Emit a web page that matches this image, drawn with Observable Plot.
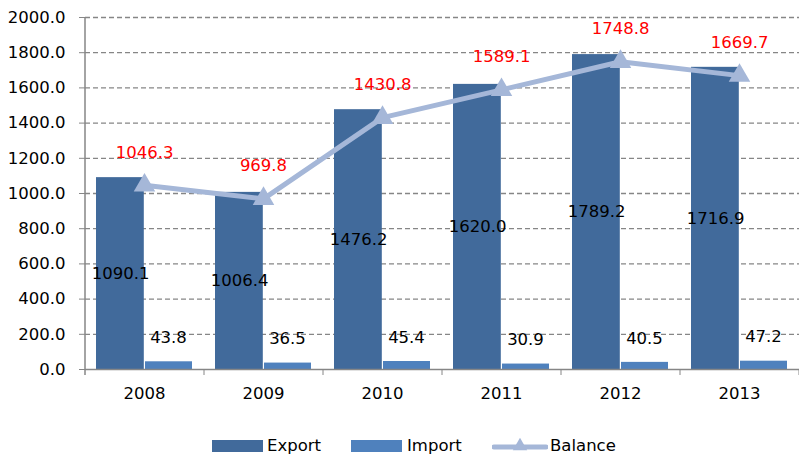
<!DOCTYPE html>
<html>
<head>
<meta charset="utf-8">
<script src="https://cdn.jsdelivr.net/npm/d3@7"></script>
<script src="https://cdn.jsdelivr.net/npm/@observablehq/plot@0.6"></script>
<style>
  body { margin: 0; background: white; font-family: "DejaVu Sans", sans-serif; }
  #wrap { width: 799px; }
  #legend { position: relative; width: 799px; height: 31px; font-size: 16.5px; color: black; }
  #legend .sw { position: absolute; }
  #legend .lb { position: absolute; top: 11px; line-height: 20px; }
</style>
</head>
<body>
<div id="wrap">
  <div id="chart"></div>
  <div id="legend"></div>
</div>
<script>
const years = ["2008", "2009", "2010", "2011", "2012", "2013"];
const exportVals = [1090.1, 1006.4, 1476.2, 1620.0, 1789.2, 1716.9];
const importVals = [43.8, 36.5, 45.4, 30.9, 40.5, 47.2];
const balanceVals = [1046.3, 969.8, 1430.8, 1589.1, 1748.8, 1669.7];
const yTicks = [0, 200, 400, 600, 800, 1000, 1200, 1400, 1600, 1800, 2000];
const seriesNames = ["Export", "Import", "Balance"];

const cExport = "#416A9B", cImport = "#4F81BD", cBalance = "#A5B7D8", cGrid = "#868686";

const data = years.map((y, i) => ({year: y, export: exportVals[i], import: importVals[i], balance: balanceVals[i]}));
const fmt = d3.format(".1f");
const half = 48.2;   // half of band width
const halfStep = 59.5;
const fs = 16.5;

const chart = Plot.plot({
  width: 799, height: 425,
  marginLeft: 85, marginRight: 0, marginTop: 17, marginBottom: 56,
  style: {fontFamily: "DejaVu Sans", fontSize: fs + "px", background: "white", color: "black"},
  x: {type: "band", domain: years, paddingInner: 0.19, paddingOuter: 0.095, axis: null, label: null},
  y: {domain: [0, 2000], axis: null, label: null},
  marks: [
    Plot.ruleY(yTicks.slice(1), {stroke: cGrid, strokeDasharray: "5,3", strokeWidth: 1.3}),
    Plot.barY(data, {x: "year", y: "export", fill: cExport, insetRight: half}),
    Plot.barY(data, {x: "year", y: "import", fill: cImport, insetLeft: half + 0.8}),
    Plot.ruleY([0], {stroke: cGrid, strokeWidth: 1.5}),
    Plot.ruleX([years[0]], {x: d => d, dx: -halfStep, stroke: cGrid, strokeWidth: 1.5, insetBottom: -6}),
    Plot.axisY({ticks: yTicks, tickFormat: d => fmt(d), tickSize: 6, tickPadding: 14, stroke: cGrid, fontSize: fs, label: null}),
    Plot.axisX({tickSize: 6, tickFormat: () => "", dx: halfStep, stroke: cGrid, label: null}),
    Plot.axisX({tickSize: 0, tickPadding: 18, fontSize: fs, label: null}),
    Plot.lineY(data, {x: "year", y: "balance", stroke: cBalance, strokeWidth: 5}),
    Plot.dot(data, {x: "year", y: "balance", symbol: "triangle", r: 8, fill: cBalance, stroke: null}),
    Plot.text(data, {x: "year", y: d => d.export / 2, text: d => fmt(d.export), dx: -24, fill: "black", fontSize: fs}),
    Plot.text(data, {x: "year", y: "import", text: d => fmt(d.import), dx: 24, dy: -24, fill: "black", fontSize: fs}),
    Plot.text(data, {x: "year", y: "balance", text: d => fmt(d.balance), dy: -33, fill: "#FF0000", fontSize: fs})
  ]
});
document.getElementById("chart").appendChild(chart);

// legend
const legend = document.getElementById("legend");
const items = [
  {name: seriesNames[0], type: "rect", color: cExport, sx: 212, tx: 267},
  {name: seriesNames[1], type: "rect", color: cImport, sx: 351, tx: 407},
  {name: seriesNames[2], type: "line", color: cBalance, sx: 492, tx: 550}
];
for (const it of items) {
  const sw = document.createElementNS("http://www.w3.org/2000/svg", "svg");
  sw.setAttribute("class", "sw");
  sw.setAttribute("width", 56);
  sw.setAttribute("height", 20);
  sw.style.left = it.sx + "px";
  sw.style.top = "11px";
  if (it.type === "rect") {
    sw.innerHTML = `<rect x="0" y="4" width="51" height="12" fill="${it.color}"/>`;
  } else {
    sw.innerHTML = `<line x1="2" y1="11" x2="54" y2="11" stroke="${it.color}" stroke-width="5" stroke-linecap="round"/>` +
      `<path d="${d3.symbol(d3.symbolTriangle, 90)()}" transform="translate(28,10)" fill="${it.color}"/>`;
  }
  legend.appendChild(sw);
  const lb = document.createElement("div");
  lb.className = "lb";
  lb.style.left = it.tx + "px";
  lb.textContent = it.name;
  legend.appendChild(lb);
}
</script>
</body>
</html>
